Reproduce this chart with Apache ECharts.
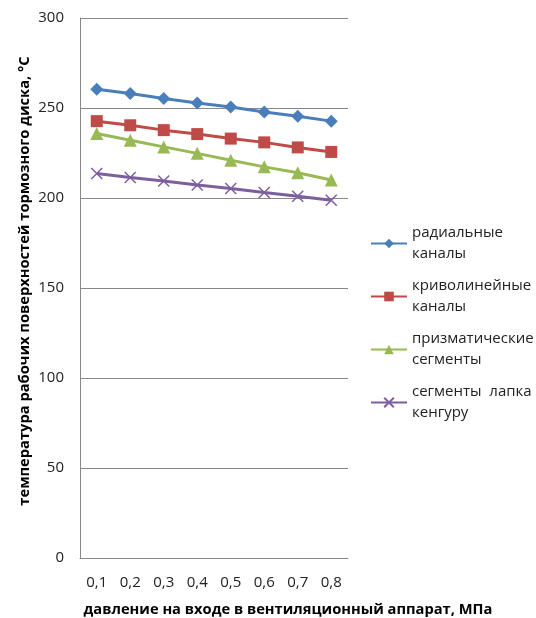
<!DOCTYPE html>
<html><head><meta charset="utf-8">
<script src="https://cdn.jsdelivr.net/npm/echarts@6/dist/echarts.min.js"></script>
<style>html,body{margin:0;padding:0;background:#fff}#c{width:536px;height:618px}</style>
</head><body><div id="c"></div>
<script>
const categories = ['0,1','0,2','0,3','0,4','0,5','0,6','0,7','0,8'];
const radial = [260.4, 258, 255.3, 252.8, 250.6, 247.8, 245.4, 242.7];
const curved = [242.7, 240.4, 237.7, 235.5, 233, 230.9, 228.1, 225.6];
const prismatic = [235.8, 232.1, 228.4, 224.8, 221, 217.3, 214, 210];
const kangaroo = [213.6, 211.4, 209.4, 207.2, 205.3, 203.1, 201, 198.8];
const seriesNames = ['радиальные\nканалы','криволинейные\nканалы','призматические\nсегменты','сегменты  лапка\nкенгуру'];
const yTicks = [0, 50, 100, 150, 200, 250, 300];
const xTitle = 'давление на входе в вентиляционный аппарат, МПа';
const yTitle = 'температура рабочих поверхностей тормозного диска, °С';

const FONT = 'Open Sans';
const chart = echarts.init(document.getElementById('c'), null, {renderer:'canvas'});
function mk(name, data, color, symbol, size, extra) {
  return Object.assign({
    name, type:'line', data, symbol, symbolSize:size,
    lineStyle:{color, width:3},
    itemStyle:{color},
    emphasis:{disabled:true},
    animation:false
  }, extra||{});
}
chart.setOption({
  animation:false,
  grid:{left:80, right:188, top:18, bottom:60, outerBoundsMode:'none', containLabel:false},
  legend:{
    orient:'vertical', left:365, top:207, itemGap:-10,
    itemWidth:36, itemHeight:12,
    textStyle:{fontFamily:FONT, fontSize:15, color:'#222', lineHeight:21, padding:[21,0,0,0]},
    data: seriesNames
  },
  xAxis:{
    type:'category', data:categories, boundaryGap:true,
    axisLine:{lineStyle:{color:'#888'}}, axisTick:{show:false},
    axisLabel:{fontFamily:FONT, fontSize:15, color:'#222', margin:17},
    name:xTitle, nameLocation:'middle', nameGap:44,
    nameTextStyle:{fontFamily:FONT, fontSize:14.7, fontWeight:'bold', color:'#000', padding:[0,0,0,148]}
  },
  yAxis:{
    type:'value', min:yTicks[0], max:yTicks[yTicks.length-1], interval:50,
    axisLine:{show:true, lineStyle:{color:'#888'}}, axisTick:{show:false},
    splitLine:{lineStyle:{color:'#888'}},
    axisLabel:{fontFamily:FONT, fontSize:15, color:'#222', margin:16},
    name:yTitle, nameLocation:'middle', nameRotate:90, nameGap:48,
    nameTextStyle:{fontFamily:FONT, fontSize:14.7, fontWeight:'bold', color:'#000', padding:[0,0,0,14]}
  },
  series:[
    mk(seriesNames[0], radial, '#4A7EBB', 'diamond', 13),
    mk(seriesNames[1], curved, '#BE4B48', 'rect', 12),
    mk(seriesNames[2], prismatic, '#98B954', 'triangle', 13),
    mk(seriesNames[3], kangaroo, '#7D5FA0', 'path://M0,0L10,10M10,0L0,10', 11,
      {itemStyle:{color:'#7D5FA0', borderColor:'#7D5FA0', borderWidth:1.5}})
  ]
});
</script></body></html>
